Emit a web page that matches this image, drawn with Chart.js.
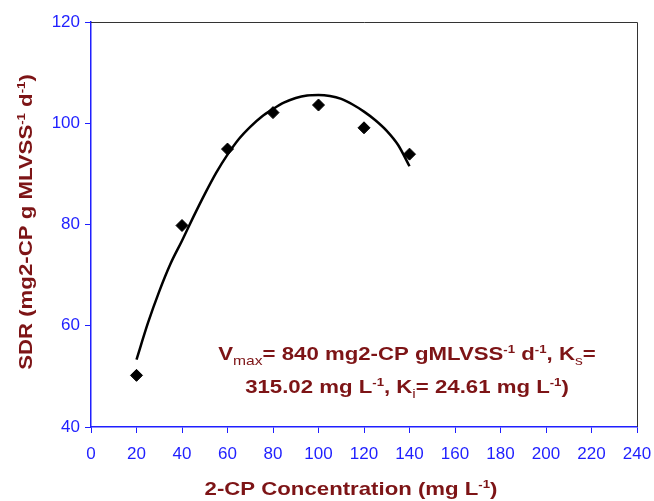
<!DOCTYPE html>
<html>
<head>
<meta charset="utf-8">
<script src="https://cdn.jsdelivr.net/npm/chart.js@4"></script>
<style>
  html, body { margin: 0; padding: 0; background: #fff; }
  #wrap { width: 654px; height: 501px; }
</style>
</head>
<body>
<div id="wrap"><canvas id="sdrChart"></canvas></div>
<script>
// measured points
const concentration = [20, 40, 60, 80, 100, 120, 140];
const sdrObserved = [50.2, 79.8, 94.9, 102.1, 103.6, 99.1, 93.9];

// fitted curve
const fitConcentration = [20, 25, 30, 35, 40, 45, 50, 55, 60, 65, 70, 75, 80, 85, 90, 95, 100, 105, 110, 115, 120, 125, 130, 135, 140];
const sdrFit = [53.3, 60.5, 66.8, 72.3, 76.8, 81.5, 86.0, 90.2, 93.8, 96.9, 99.3, 101.3, 102.8, 104.1, 105.0, 105.5, 105.6, 105.4, 104.8, 103.7, 102.3, 100.6, 98.5, 95.7, 91.5];

const xTicks = [0, 20, 40, 60, 80, 100, 120, 140, 160, 180, 200, 220, 240];
const yTicks = [40, 60, 80, 100, 120];

const blue = '#1f1fff';
const darkRed = '#7d1416';
const fontFamily = 'Arial, "Liberation Sans", Helvetica, sans-serif';

const xTitle = [['2-CP Concentration (mg L', 'n'], ['-1', 'sup'], [')', 'n']];
const yTitle = [['SDR (mg2-CP g MLVSS', 'n'], ['-1', 'sup'], [' d', 'n'], ['-1', 'sup'], [')', 'n']];
const noteLine1 = [['V', 'n'], ['max', 'sub'], ['= 840 mg2-CP gMLVSS', 'n'], ['-1', 'sup'], [' d', 'n'], ['-1', 'sup'], [', K', 'n'], ['s', 'sub'], ['=', 'n']];
const noteLine2 = [['315.02 mg L', 'n'], ['-1', 'sup'], [', K', 'n'], ['i', 'sub'], ['= 24.61 mg L', 'n'], ['-1', 'sup'], [')', 'n']];

const stretch = 1.2; // the original lettering is a bit wide

function segFont(kind, size) {
    if (kind === 'n') return 'bold ' + size + 'px ' + fontFamily;
    if (kind === 'sub') return Math.round(size * 0.68) + 'px ' + fontFamily;
    return 'bold ' + Math.round(size * 0.62) + 'px ' + fontFamily;
}

function richWidth(ctx, parts, size) {
    let w = 0;
    parts.forEach(p => { ctx.font = segFont(p[1], size); w += ctx.measureText(p[0]).width; });
    return w;
}

// draws text with sub/superscripts centred on (cx, baseline)
function drawRich(ctx, parts, cx, baseline, size, color) {
    ctx.save();
    ctx.translate(cx, baseline);
    ctx.scale(stretch, 1);
    let x = -richWidth(ctx, parts, size) / 2;
    ctx.fillStyle = color;
    ctx.textAlign = 'left';
    ctx.textBaseline = 'alphabetic';
    parts.forEach(p => {
        ctx.font = segFont(p[1], size);
        let dy = 0;
        if (p[1] === 'sub') dy = size * 0.28;
        if (p[1] === 'sup') dy = -size * 0.4;
        ctx.fillText(p[0], x, dy);
        x += ctx.measureText(p[0]).width;
    });
    ctx.restore();
}

const textPlugin = {
    id: 'textPlugin',
    afterDraw(chart) {
        const ctx = chart.ctx;
        const a = chart.chartArea;
        ctx.save();
        // top and right frame
        ctx.strokeStyle = '#333';
        ctx.lineWidth = 1;
        ctx.beginPath();
        ctx.moveTo(a.left, a.top + 0.5);
        ctx.lineTo(a.right + 0.5, a.top + 0.5);
        ctx.lineTo(a.right + 0.5, a.bottom);
        ctx.stroke();

        drawRich(ctx, xTitle, 351, 495, 18.5, darkRed);

        ctx.save();
        ctx.translate(32, 222);
        ctx.rotate(-Math.PI / 2);
        drawRich(ctx, yTitle, 0, 0, 18.5, darkRed);
        ctx.restore();

        drawRich(ctx, noteLine1, 407, 360, 18.5, darkRed);
        drawRich(ctx, noteLine2, 407, 393, 18.5, darkRed);
        ctx.restore();
    }
};

new Chart(document.getElementById('sdrChart'), {
    type: 'scatter',
    data: {
        datasets: [{
            label: 'Fit',
            type: 'line',
            data: fitConcentration.map((x, i) => ({ x: x, y: sdrFit[i] })),
            borderColor: '#000',
            borderWidth: 2.5,
            pointRadius: 0,
            fill: false,
            cubicInterpolationMode: 'monotone',
            order: 2
        }, {
            label: 'SDR',
            data: concentration.map((x, i) => ({ x: x, y: sdrObserved[i] })),
            pointStyle: 'rectRot',
            pointRadius: 6,
            backgroundColor: '#000',
            borderColor: '#000',
            borderWidth: 1,
            order: 1
        }]
    },
    options: {
        responsive: true,
        maintainAspectRatio: false,
        animation: false,
        layout: { padding: { top: 22, right: 17, left: 0, bottom: 0 } },
        plugins: { legend: { display: false }, tooltip: { enabled: false } },
        scales: {
            x: {
                type: 'linear',
                min: 0,
                max: 240,
                afterBuildTicks: s => { s.ticks = xTicks.map(v => ({ value: v })); },
                afterFit: s => { s.height = 74; s.paddingLeft = 0; s.paddingRight = 0; },
                grid: { display: true, drawOnChartArea: false, drawTicks: true, tickLength: 6, color: blue },
                border: { color: blue, width: 1.5 },
                ticks: { color: blue, padding: 11, font: { size: 17, family: fontFamily }, maxRotation: 0 }
            },
            y: {
                min: 40,
                max: 120,
                afterBuildTicks: s => { s.ticks = yTicks.map(v => ({ value: v })); },
                afterFit: s => { s.width = 91; s.paddingTop = 0; s.paddingBottom = 0; },
                grid: { display: true, drawOnChartArea: false, drawTicks: true, tickLength: 6, color: blue },
                border: { color: blue, width: 1.5 },
                ticks: { color: blue, padding: 5, font: { size: 17, family: fontFamily } }
            }
        }
    },
    plugins: [textPlugin]
});
</script>
</body>
</html>
